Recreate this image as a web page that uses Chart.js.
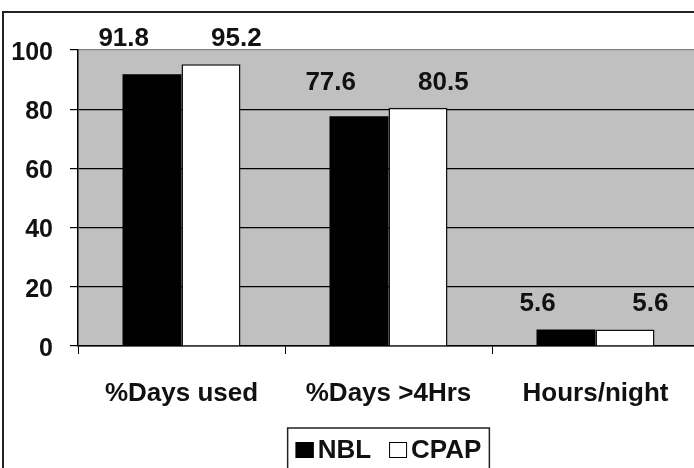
<!DOCTYPE html>
<html>
<head>
<meta charset="utf-8">
<script src="https://cdn.jsdelivr.net/npm/chart.js@4"></script>
<style>
html, body { margin: 0; padding: 0; background: #fff; overflow: hidden; width: 694px; height: 468px; }
#frame { position: absolute; left: 2px; top: 11px; width: 820px; height: 520px; border: 2px solid #222; box-sizing: border-box; }
#wrap { position: absolute; left: 0; top: 0; }
</style>
</head>
<body>
<div id="frame"></div>
<div id="wrap"><canvas id="myChart" width="774" height="490"></canvas></div>
<script>
// chart values
var categories = ['%Days used', '%Days >4Hrs', 'Hours/night'];
var seriesNames = ['NBL', 'CPAP'];
var nblValues = [91.8, 77.6, 5.6];
var cpapValues = [95.2, 80.5, 5.6];
var yTicks = [0, 20, 40, 60, 80, 100];

var FONT = '"Liberation Sans", Arial, sans-serif';

// gray plot background
var plotBackground = {
  id: 'plotBackground',
  beforeDraw: function(chart) {
    var a = chart.chartArea, c = chart.ctx;
    c.save();
    c.fillStyle = '#c0c0c0';
    c.fillRect(a.left, a.top, a.right - a.left, a.bottom - a.top);
    c.restore();
  }
};

// value labels, same height for both bars of a group
var valueLabels = {
  id: 'valueLabels',
  afterDatasetsDraw: function(chart) {
    var c = chart.ctx;
    var m0 = chart.getDatasetMeta(0), m1 = chart.getDatasetMeta(1);
    c.save();
    c.font = 'bold 26px ' + FONT;
    c.fillStyle = '#111';
    c.textAlign = 'center';
    c.textBaseline = 'alphabetic';
    for (var i = 0; i < categories.length; i++) {
      var b0 = m0.data[i], b1 = m1.data[i];
      var top = Math.min(b0.y, b1.y) - 18;
      c.fillText(nblValues[i].toFixed(1), b0.x - 0.48 * b0.width, top);
      c.fillText(cpapValues[i].toFixed(1), b1.x + 0.43 * b1.width, top);
    }
    c.restore();
  }
};

// boxed legend under the category labels
var boxLegend = {
  id: 'boxLegend',
  afterDraw: function(chart) {
    var c = chart.ctx, a = chart.chartArea;
    c.save();
    c.font = 'bold 26px ' + FONT;
    var pad = 8, sq = 18, gap = 4, itemGap = 18;
    var w0 = c.measureText(seriesNames[0]).width;
    var w1 = c.measureText(seriesNames[1]).width;
    var total = pad + sq + gap + w0 + itemGap + sq + gap + w1 + pad;
    var x = (a.left + a.right) / 2 - total / 2;
    var y = a.bottom + 82;
    c.strokeStyle = '#222';
    c.lineWidth = 1.5;
    c.strokeRect(x, y, total, 60);
    var cy = y + 22;
    var px = x + pad;
    var fills = ['#000', '#fff'];
    for (var k = 0; k < 2; k++) {
      c.fillStyle = fills[k];
      c.fillRect(px, cy - 8, sq, 16);
      c.strokeStyle = '#000';
      c.lineWidth = 1;
      c.strokeRect(px + 0.5, cy - 7.5, sq - 1, 15);
      px += sq + gap;
      c.fillStyle = '#111';
      c.textAlign = 'left';
      c.textBaseline = 'middle';
      c.fillText(seriesNames[k], px, cy + 1);
      px += (k === 0 ? w0 : w1) + itemGap;
    }
    c.restore();
  }
};

var ctx = document.getElementById('myChart').getContext('2d');
var chart = new Chart(ctx, {
  type: 'bar',
  data: {
    labels: categories,
    datasets: [{
      label: seriesNames[0],
      data: nblValues,
      backgroundColor: '#000',
      borderColor: '#000',
      borderWidth: 0
    }, {
      label: seriesNames[1],
      data: cpapValues,
      backgroundColor: '#fff',
      borderColor: '#111',
      borderWidth: 1.5
    }]
  },
  options: {
    responsive: false,
    animation: false,
    layout: { padding: { left: 0, top: 50, right: 75, bottom: 84 } },
    datasets: { bar: { categoryPercentage: 0.57, barPercentage: 1.0 } },
    plugins: {
      legend: { display: false },
      tooltip: { enabled: false }
    },
    scales: {
      x: {
        afterFit: function(s) { s.height = 60; },
        grid: { drawOnChartArea: false, drawTicks: true, tickLength: 8, color: '#000', offset: true },
        border: { color: '#000', width: 1.5 },
        ticks: { color: '#111', font: { family: FONT, size: 26, weight: 'bold' }, padding: 24, maxRotation: 0 }
      },
      y: {
        min: 0,
        max: 100,
        afterFit: function(s) { s.width = 78; },
        afterBuildTicks: function(s) { s.ticks = yTicks.map(function(v) { return { value: v }; }); },
        grid: {
          color: function(ctx) { return ctx.tick && ctx.tick.value === 100 ? '#808080' : '#000'; },
          tickColor: '#000',
          lineWidth: 1.2,
          tickLength: 8
        },
        border: { color: '#000', width: 1.5 },
        ticks: { color: '#111', font: { family: FONT, size: 25, weight: 'bold' }, padding: 17, labelOffset: 3 }
      }
    }
  },
  plugins: [plotBackground, valueLabels, boxLegend]
});
</script>
</body>
</html>
